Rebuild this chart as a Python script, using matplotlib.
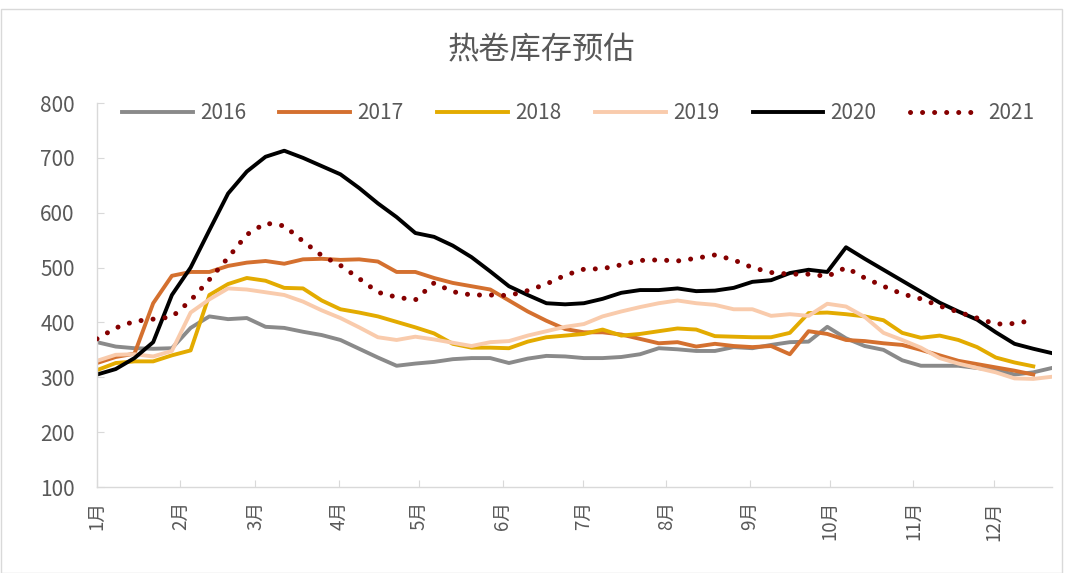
import numpy as np
import matplotlib
matplotlib.use("Agg")
from matplotlib import pyplot as plt
from matplotlib.patches import Rectangle

plt.rcParams['font.family'] = ['Noto Sans CJK SC', 'DejaVu Sans']

# weekly estimates
y2016 = [364, 356, 353, 352, 353, 390, 411, 406, 408, 392, 390, 383, 377, 368, 352, 336, 321, 325,
         328, 333, 335, 335, 326, 334, 339, 338, 335, 335, 337, 342, 353, 351, 348, 348, 355, 353,
         359, 364, 365, 392, 371, 357, 350, 331, 321, 321, 321, 317, 313, 305, 309, 317]
y2017 = [326, 337, 343, 435, 485, 492, 492, 503, 509, 512, 507, 515, 516, 514, 515, 511, 492, 492,
         481, 472, 466, 460, 440, 420, 403, 388, 382, 382, 378, 370, 362, 364, 356, 361, 357, 355,
         357, 342, 384, 379, 368, 366, 362, 359, 350, 340, 330, 324, 318, 312, 305]
y2018 = [313, 326, 329, 329, 340, 349, 450, 470, 481, 476, 463, 462, 440, 424, 418, 411, 401, 391,
         380, 361, 354, 354, 353, 365, 373, 376, 379, 387, 376, 379, 384, 389, 387, 375, 374, 373,
         373, 381, 417, 418, 415, 411, 404, 381, 372, 376, 368, 355, 336, 327, 320]
y2019 = [330, 341, 342, 338, 348, 418, 442, 462, 460, 455, 450, 438, 422, 408, 391, 373, 368, 374,
         369, 363, 357, 364, 366, 376, 384, 392, 397, 411, 420, 428, 435, 440, 435, 432, 424, 424,
         412, 415, 412, 434, 429, 410, 381, 368, 354, 335, 325, 317, 309, 298, 297, 301]
y2020 = [305, 315, 335, 364, 450, 500, 568, 635, 675, 702, 713, 700, 685, 670, 645, 617, 592, 563,
         556, 540, 519, 493, 466, 450, 435, 433, 435, 443, 454, 459, 459, 462, 457, 458, 463, 474,
         477, 490, 496, 492, 537, 516, 496, 476, 456, 436, 420, 405, 382, 361, 352, 344]
y2021 = [370, 390, 402, 406, 410, 440, 478, 518, 560, 581, 576, 548, 522, 504, 480, 455, 446, 441,
         472, 456, 450, 450, 449, 458, 470, 486, 497, 498, 505, 513, 514, 512, 517, 523, 514, 500,
         491, 488, 488, 484, 500, 481, 466, 452, 443, 430, 419, 408, 397, 398, 404]

years = ['2016', '2017', '2018', '2019', '2020', '2021']
series = [y2016, y2017, y2018, y2019, y2020, y2021]
colors = ['#8a8a8a', '#d4702f', '#e3ab00', '#f9cbac', '#000000', '#850000']

month_labels = [f'{m}月' for m in range(1, 13)]
month_start_days = [0, 31, 59, 90, 120, 151, 181, 212, 243, 273, 304, 334]

fig = plt.figure(figsize=(10.65, 5.73), dpi=100)
ax = fig.add_axes([97 / 1065, 1 - 487 / 573, (1052 - 97) / 1065, (487 - 103) / 573])

for year, vals, col in zip(years, series, colors):
    x = np.arange(len(vals))
    if year == '2021':
        ax.plot(x, vals, color=col, lw=3.6, linestyle=(0, (0.01, 2.4)),
                dash_capstyle='round', label=year, zorder=3)
    else:
        ax.plot(x, vals, color=col, lw=2.8, label=year, solid_joinstyle='round', zorder=2)

ax.set_xlim(0, 51)
ax.set_ylim(100, 800)
ax.set_yticks(range(100, 801, 100))
ax.set_xticks([d / 7 * 1.004 for d in month_start_days])
ax.set_xticklabels(month_labels, rotation=90, fontsize=13.5, color='#595959')

for s in ['top', 'right']:
    ax.spines[s].set_visible(False)
for s in ['left', 'bottom']:
    ax.spines[s].set_color('#d9d9d9')
    ax.spines[s].set_linewidth(1.0)
ax.tick_params(axis='y', direction='in', length=5, color='#d9d9d9', labelsize=15,
               labelcolor='#595959', pad=16)
ax.tick_params(axis='x', direction='in', length=5, color='#d9d9d9', pad=10)

fig.text(541 / 1065, 1 - 50 / 573, '热卷库存预估', ha='center', va='center',
         fontsize=22.5, color='#595959')

fig.legend(loc='center', bbox_to_anchor=(578 / 1065, 1 - 113 / 573), ncol=6, frameon=False,
           fontsize=15, handlelength=3.4, handletextpad=0.35, columnspacing=1.6,
           borderpad=0, labelcolor='#595959')

fig.patches.append(Rectangle((1 / 1065, 0), 1061 / 1065, 1 - 9 / 573, transform=fig.transFigure,
                             fill=False, edgecolor='#d9d9d9', lw=1.0))

fig.savefig('out.png', dpi=100)
